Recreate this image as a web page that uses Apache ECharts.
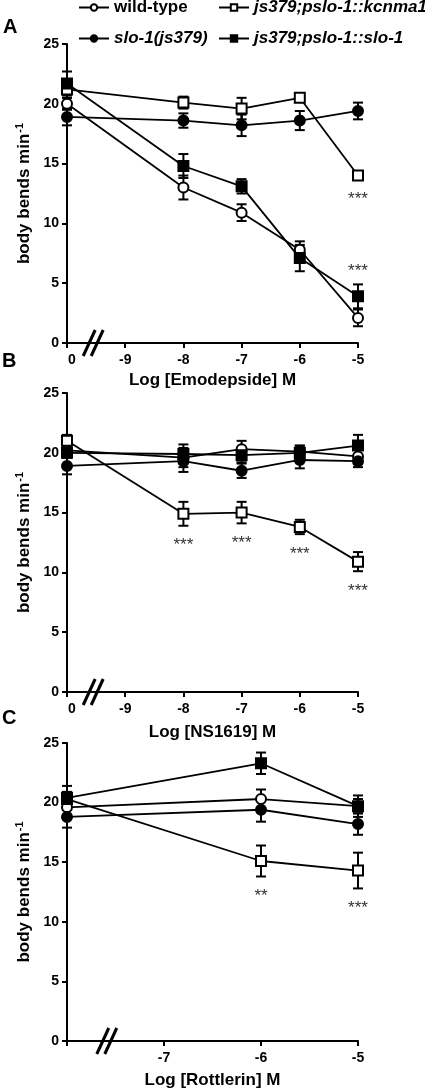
<!DOCTYPE html>
<html><head><meta charset="utf-8">
<script src="https://cdn.jsdelivr.net/npm/echarts@6/dist/echarts.min.js"></script>
<style>html,body{margin:0;padding:0;background:#fff}#c{width:425px;height:1092px}</style>
</head><body><div id="c"></div>
<script>
// ---------- data ----------
const seriesNames = ['wild-type', 'js379;pslo-1::kcnma1', 'slo-1(js379)', 'js379;pslo-1::slo-1'];
const yTicks = [0, 5, 10, 15, 20, 25];

// Panel A: Emodepside
const ticksA = ['0', '-9', '-8', '-7', '-6', '-5'];
const dosesA = ['0', '-8', '-7', '-6', '-5'];
const wtA = [20.0, 13.0, 10.9, 7.8, 2.1];
const wtErrA = [0.5, 1.0, 0.7, 0.7, 0.7];
const kcnA = [21.2, 20.1, 19.6, 20.5, 14.0];
const kcnErrA = [0.7, 0.5, 0.9, 0.3, 0.3];
const sloA = [18.9, 18.6, 18.2, 18.6, 19.4];
const sloErrA = [0.7, 0.6, 0.9, 0.8, 0.7];
const resA = [21.7, 14.8, 13.1, 7.1, 3.9];
const resErrA = [1.0, 1.0, 0.6, 1.1, 1.0];
const starsA = [
  { s: 1, dose: '-5', text: '***', side: 'below' },
  { s: 3, dose: '-5', text: '***', side: 'above' }
];

// Panel B: NS1619
const ticksB = ['0', '-9', '-8', '-7', '-6', '-5'];
const dosesB = ['0', '-8', '-7', '-6', '-5'];
const wtB = [20.2, 19.6, 20.3, 20.1, 19.7];
const wtErrB = [0.5, 0.8, 0.7, 0.5, 0.6];
const kcnB = [21.0, 14.9, 15.0, 13.8, 10.9];
const kcnErrB = [0.5, 1.0, 0.9, 0.6, 0.8];
const sloB = [18.9, 19.3, 18.5, 19.4, 19.3];
const sloErrB = [0.7, 0.9, 0.6, 0.7, 0.5];
const resB = [20.0, 19.9, 19.8, 20.0, 20.6];
const resErrB = [0.4, 0.8, 0.6, 0.6, 0.9];
const starsB = [
  { s: 1, dose: '-8', text: '***', side: 'below' },
  { s: 1, dose: '-7', text: '***', side: 'below' },
  { s: 1, dose: '-6', text: '***', side: 'below' },
  { s: 1, dose: '-5', text: '***', side: 'below' }
];

// Panel C: Rottlerin
const ticksC = ['0', '-7', '-6', '-5'];
const dosesC = ['0', '-6', '-5'];
const wtC = [19.6, 20.3, 19.7];
const wtErrC = [0.6, 0.8, 0.6];
const kcnC = [20.3, 15.1, 14.3];
const kcnErrC = [0.6, 1.3, 1.5];
const sloC = [18.8, 19.4, 18.2];
const sloErrC = [0.9, 1.0, 0.9];
const resC = [20.4, 23.3, 19.7];
const resErrC = [1.0, 0.9, 0.9];
const starsC = [
  { s: 1, dose: '-6', text: '**', side: 'below' },
  { s: 1, dose: '-5', text: '***', side: 'below' }
];

// ---------- build ----------
const FONT = 'Arial, "Liberation Sans", Helvetica, sans-serif';
const symbolDefs = [
  { symbol: 'circle', fill: '#fff' },
  { symbol: 'rect', fill: '#fff' },
  { symbol: 'circle', fill: '#000' },
  { symbol: 'rect', fill: '#000' }
];

const panels = [
  { ticks: ticksA, doses: dosesA, means: [wtA, kcnA, sloA, resA], errs: [wtErrA, kcnErrA, sloErrA, resErrA], stars: starsA,
    title: 'Log [Emodepside] M', top: 44, bottom: 749, nameGap: 29, breakFrac: 0.45, hideFirst: false, firstPad: 10 },
  { ticks: ticksB, doses: dosesB, means: [wtB, kcnB, sloB, resB], errs: [wtErrB, kcnErrB, sloErrB, resErrB], stars: starsB,
    title: 'Log [NS1619] M', top: 393, bottom: 400, nameGap: 32, breakFrac: 0.45, hideFirst: false, firstPad: 10 },
  { ticks: ticksC, doses: dosesC, means: [wtC, kcnC, sloC, resC], errs: [wtErrC, kcnErrC, sloErrC, resErrC], stars: starsC,
    title: 'Log [Rottlerin] M', top: 743, bottom: 51, nameGap: 31, breakFrac: 0.41, hideFirst: true, firstPad: 0 }
];

const grids = [], xAxes = [], yAxes = [], series = [];
panels.forEach((p, gi) => {
  grids.push({ left: 67, right: 67, top: p.top, bottom: p.bottom });
  xAxes.push({
    type: 'category', gridIndex: gi, data: p.ticks, boundaryGap: false,
    axisLine: { lineStyle: { color: '#000', width: 2 } },
    axisTick: { length: 5, lineStyle: { color: '#000', width: 2 } },
    axisLabel: {
      color: '#000', fontSize: 14, fontWeight: 'bold', fontFamily: FONT, margin: 10,
      formatter: (v, i) => i === 0 ? (p.hideFirst ? '' : '{f|' + v + '}') : v,
      rich: { f: { fontSize: 14, fontWeight: 'bold', fontFamily: FONT, color: '#000', padding: [0, 0, 0, p.firstPad] } }
    },
    splitLine: { show: false },
    name: p.title, nameLocation: 'middle', nameGap: p.nameGap,
    nameTextStyle: { color: '#000', fontSize: 17, fontWeight: 'bold', fontFamily: FONT }
  });
  yAxes.push({
    type: 'value', gridIndex: gi, min: yTicks[0], max: yTicks[yTicks.length - 1], interval: yTicks[1] - yTicks[0],
    axisLine: { show: true, lineStyle: { color: '#000', width: 2 } },
    axisTick: { show: true, length: 5, lineStyle: { color: '#000', width: 2 } },
    axisLabel: { color: '#000', fontSize: 14, fontWeight: 'bold', fontFamily: FONT, margin: 8 },
    splitLine: { show: false },
    name: '{a|body bends min}{b|-1}', nameLocation: 'middle', nameGap: 30, nameRotate: 90,
    nameTextStyle: {
      rich: {
        a: { fontSize: 17, fontWeight: 'bold', fontFamily: FONT, color: '#000' },
        b: { fontSize: 11, fontWeight: 'bold', fontFamily: FONT, color: '#000', verticalAlign: 'top', padding: [0, 0, 8, 1] }
      }
    }
  });

  // error bars
  p.means.forEach((m, si) => {
    const errData = p.doses.map((d, i) => [d, m[i], p.errs[si][i]]);
    series.push({
      type: 'custom', xAxisIndex: gi, yAxisIndex: gi, z: 3, clip: false, silent: true,
      encode: { x: 0, y: 1 },
      data: errData,
      renderItem: (params, api) => {
        const x = api.value(0), y = api.value(1), e = api.value(2);
        const top = api.coord([x, y + e]), bot = api.coord([x, y - e]);
        const hw = 5;
        const st = { stroke: '#000', lineWidth: 2 };
        return { type: 'group', children: [
          { type: 'line', shape: { x1: top[0], y1: top[1], x2: bot[0], y2: bot[1] }, style: st },
          { type: 'line', shape: { x1: top[0] - hw, y1: top[1], x2: top[0] + hw, y2: top[1] }, style: st },
          { type: 'line', shape: { x1: bot[0] - hw, y1: bot[1], x2: bot[0] + hw, y2: bot[1] }, style: st }
        ] };
      }
    });
  });

  // lines with symbols
  p.means.forEach((m, si) => {
    const sd = symbolDefs[si];
    series.push({
      type: 'line', name: seriesNames[si], xAxisIndex: gi, yAxisIndex: gi, z: 4,
      data: p.doses.map((d, i) => [d, m[i]]),
      symbol: sd.symbol, symbolSize: 10, showAllSymbol: true,
      lineStyle: { color: '#000', width: 1.8 },
      itemStyle: { color: sd.fill, borderColor: '#000', borderWidth: 2 },
      emphasis: { disabled: true }, animation: false
    });
  });

  // significance stars
  series.push({
    type: 'custom', xAxisIndex: gi, yAxisIndex: gi, z: 5, clip: false, silent: true,
    encode: { x: 0, y: 1 },
    data: p.stars.map(s => {
      const i = p.doses.indexOf(s.dose);
      return [s.dose, p.means[s.s][i], p.errs[s.s][i]];
    }),
    renderItem: (params, api) => {
      const s = p.stars[params.dataIndex];
      const x = api.value(0), y = api.value(1), e = api.value(2);
      const below = s.side === 'below';
      const end = api.coord([x, below ? y - e : y + e]);
      const vis = below ? end[1] + 16 : end[1] - 17;
      return { type: 'text', style: { text: s.text, x: end[0], y: vis + 4, textAlign: 'center', textVerticalAlign: 'middle',
        font: '17px ' + FONT, fill: '#333' } };
    }
  });

  // axis break mark
  series.push({
    type: 'custom', xAxisIndex: gi, yAxisIndex: gi, z: 6, clip: false, silent: true,
    data: [[0, 0]],
    renderItem: (params, api) => {
      const a = api.coord([0, 0]), b = api.coord([1, 0]);
      const cx = a[0] + p.breakFrac * (b[0] - a[0]), cy = a[1];
      const st = { stroke: '#000', lineWidth: 3 };
      return { type: 'group', children: [
        { type: 'line', shape: { x1: cx - 10, y1: cy + 13, x2: cx + 2, y2: cy - 13 }, style: st },
        { type: 'line', shape: { x1: cx - 2, y1: cy + 13, x2: cx + 10, y2: cy - 13 }, style: st }
      ] };
    }
  });
});

const legendPos = [
  { left: 78, top: -1, italic: false },
  { left: 218, top: -1, italic: true },
  { left: 78, top: 30, italic: true },
  { left: 218, top: 30, italic: true }
];
const legends = seriesNames.map((n, i) => ({
  data: [n], left: legendPos[i].left, top: legendPos[i].top, selectedMode: false,
  itemWidth: 30, itemHeight: 8, padding: 0,
  textStyle: { color: '#000', fontSize: 17, fontWeight: 'bold', fontFamily: FONT, fontStyle: legendPos[i].italic ? 'italic' : 'normal' }
}));

const chart = echarts.init(document.getElementById('c'), null, { renderer: 'canvas' });
chart.setOption({
  animation: false,
  backgroundColor: '#fff',
  legend: legends,
  grid: grids, xAxis: xAxes, yAxis: yAxes, series: series,
  graphic: [
    { type: 'text', left: 3, top: 17, style: { text: 'A', font: 'bold 20px ' + FONT, fill: '#000' } },
    { type: 'text', left: 2, top: 351, style: { text: 'B', font: 'bold 20px ' + FONT, fill: '#000' } },
    { type: 'text', left: 2, top: 708, style: { text: 'C', font: 'bold 20px ' + FONT, fill: '#000' } }
  ]
});
</script>
</body></html>
